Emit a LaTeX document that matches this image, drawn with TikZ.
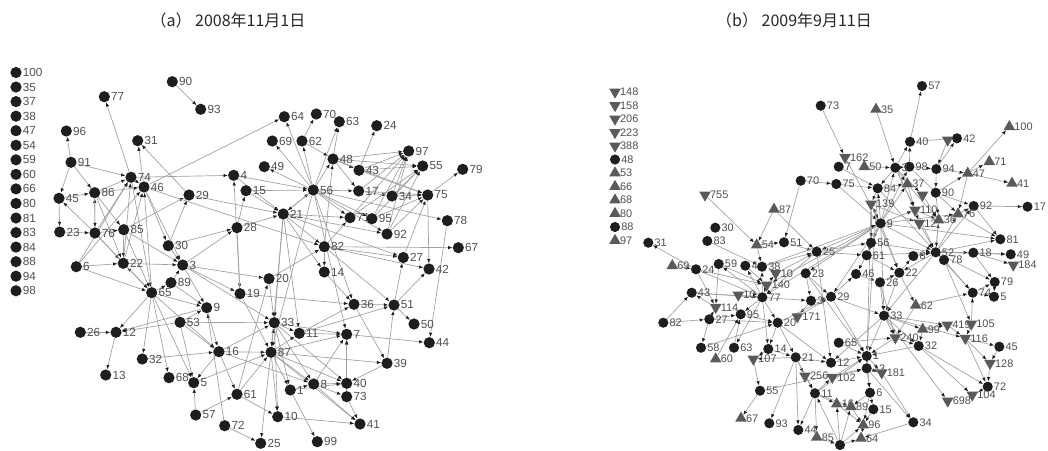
\documentclass[tikz,border=0pt]{standalone}
\usepackage{fontspec}
\setmainfont{Liberation Sans}
\newfontfamily\cjk{Noto Sans CJK SC}
\usetikzlibrary{shapes.geometric,arrows.meta,backgrounds}
\definecolor{dotc}{HTML}{1E1E1E}
\definecolor{tric}{HTML}{5A5A5A}
\definecolor{edgec}{HTML}{A0A0A0}
\definecolor{lblc}{HTML}{505050}
\tikzset{
 lblA/.style={font=\fontsize{8.8}{8.8}\selectfont, text=lblc, inner sep=0.5pt},
 lblB/.style={font=\fontsize{8.2}{8.2}\selectfont, text=lblc, inner sep=0.5pt},
 dotA/.style={circle, fill=dotc, inner sep=0pt, minimum size=8.4pt},
 dotB/.style={circle, fill=dotc, inner sep=0pt, minimum size=7.6pt},
 triup/.style={regular polygon, regular polygon sides=3, fill=tric, inner sep=0pt, minimum size=10pt},
 tridn/.style={triup, shape border rotate=180},
 conn/.style={draw=edgec, line width=0.5pt, -{Latex[length=3.2pt,width=2.6pt,color=dotc]}},
 ttl/.style={font=\cjk\fontsize{12}{12}\selectfont, text=black!85},
}
\begin{document}
\begin{tikzpicture}[x=0.75pt,y=-0.75pt]
\useasboundingbox (0,0) rectangle (1048,450);
\begin{scope}[on background layer]
\fill[white] (0,0) rectangle (1048,450);
\end{scope}
\node[ttl] (ta) at (228,20) {（a）\ 2008年11月1日};
\node[ttl] (tb) at (794,20) {（b）\ 2009年9月11日};
% ---------- panel a ----------
\foreach \nm [count=\i from 0] in {100,35,37,38,47,54,59,60,66,80,81,83,84,88,94,98}
  \node[dotA,label={[lblA]right:\nm}] (la\nm) at (16,72.5+14.55*\i) {};
\foreach \nm/\x/\y in {90/172.3/81.7, 93/200.7/109.3, 77/104.3/96.7, 96/66.3/131, 31/137.7/140.7, 91/71/162.3, 74/131/177.3, 46/144/187, 45/59/198.3, 86/94.7/192.7, 29/189/195, 4/233.7/175.3, 15/246/190.7, 23/59.7/232, 76/95/233, 85/123.7/229.7, 28/237/227.7, 30/168.3/245.7, 6/76.3/266.7, 22/123.3/263.3, 3/182.7/265, 89/171/282.7, 65/151.7/292.7, 19/240/293.7, 9/206.7/307.7, 53/180/322.3, 26/80.3/332.3, 12/116/332.3, 16/219/351.7, 32/142.3/359, 13/105.7/375, 68/169/377.7, 5/193.7/382.7, 61/237/394.3, 57/195.7/415, 72/224.7/425.7, 64/284.3/116.7, 70/316.3/114, 63/339.3/121.7, 24/376.7/125.7, 69/272.3/141, 62/302/141, 48/333/159, 97/408.7/151, 55/422.7/166, 79/462.7/169.3, 49/264.3/166.7, 43/359/170.3, 56/313.3/190, 17/358.7/191, 34/392/196, 75/427.7/195, 21/283.3/214, 71/350/217.7, 95/372/218.7, 78/447.3/220.7, 92/387/234, 82/324.3/246.7, 67/458.3/247.7, 27/403.3/257.5, 42/429/269, 14/324.3/272, 20/269/278.7, 36/354/304.3, 51/394/305, 50/414/324, 33/274.3/322.7, 11/299.3/333.3, 7/346.7/334.3, 44/429.3/342.7, 87/271/352.3, 39/387/363.3, 8/313.7/384, 40/346.7/383.3, 1/290.3/390, 73/346.7/396.7, 10/277.7/416.7, 41/360/424, 25/260.7/443.3, 99/317.3/441.7}
  \node[dotA,label={[lblA]right:\nm}] (a\nm) at (\x,\y) {};
\begin{scope}[on background layer]
\foreach \ea/\eb in {90/93, 74/77, 91/96, 29/31, 46/31, 91/74, 91/86, 91/45, 45/23, 76/45, 74/4, 86/74, 86/46, 46/64, 29/21, 85/29, 30/29, 76/74, 76/86, 86/76, 23/76, 76/85, 86/85, 85/22, 76/22, 86/22, 46/30, 46/3, 74/65, 30/28, 3/28, 28/19, 19/4, 28/15, 15/56, 4/56, 21/82, 21/56, 56/21, 56/64, 56/69, 56/62, 56/49, 56/48, 62/70, 62/48, 48/63, 56/63, 43/24, 48/97, 48/55, 48/43, 48/17, 43/55, 43/75, 17/97, 17/34, 56/17, 56/71, 56/95, 56/92, 34/97, 34/55, 71/55, 95/75, 95/97, 92/97, 92/55, 75/79, 56/78, 82/67, 82/27, 82/14, 82/71, 82/48, 27/75, 75/42, 78/44, 51/27, 51/42, 36/51, 14/36, 19/36, 11/36, 11/51, 11/7, 7/44, 87/39, 39/51, 39/40, 51/50, 20/33, 33/11, 33/8, 33/40, 33/1, 33/10, 87/33, 87/11, 87/7, 87/1, 87/10, 87/25, 87/41, 87/8, 16/87, 61/87, 53/33, 8/7, 8/40, 1/8, 10/41, 8/41, 1/99, 73/41, 40/7, 73/7, 65/22, 65/12, 65/32, 65/68, 65/89, 65/9, 65/5, 6/65, 26/12, 12/13, 53/12, 9/12, 53/5, 53/16, 53/9, 3/9, 89/9, 16/5, 16/61, 57/5, 57/61, 72/9, 72/25, 5/87, 32/16, 6/22, 22/74, 22/46, 65/46, 89/3, 30/3, 3/20, 3/33, 20/82, 21/11, 56/87, 21/87, 21/33, 21/14, 21/92, 21/71, 21/27, 56/36, 56/7, 82/51, 82/42, 71/97, 95/55, 17/75, 43/97, 48/75, 34/75, 92/75, 61/10, 61/20, 16/33, 16/8, 65/16, 74/46, 6/46, 22/3, 85/3, 3/19, 9/16, 19/87, 33/7, 8/73, 1/40, 87/40, 36/39, 4/21, 15/21, 28/21, 6/74, 85/65, 76/65, 45/86, 46/82}
  \draw[conn] (a\ea) -- (a\eb);
\end{scope}
% ---------- panel b ----------
\foreach \nm [count=\i from 0] in {148,158,206,223,388}
  \node[tridn,label={[lblB]right:\nm}] (lb\nm) at (615,92+13.5*\i) {};
\node[dotB,label={[lblB]right:48}] (lb48) at (615,159.5) {};
\foreach \nm/\i in {53/6,66/7,68/8,80/9,97/11}
  \node[triup,label={[lblB]right:\nm}] (lb\nm) at (615,92+13.5*\i) {};
\node[dotB,label={[lblB]right:88}] (lb88) at (615,227) {};
\foreach \nm/\x/\y in {70/800.7/180.7, 30/715.3/227.7, 83/707.3/241, 31/648.3/242.7, 51/784/242.3, 57/922/86, 73/820.7/105.7, 40/910/141.7, 42/957/138.3, 7/838.7/166.7, 98/909.3/166.7, 94/936.3/169, 75/836.3/184, 84/877.7/188.3, 90/935.7/192.7, 92/973.7/206, 17/1027.5/206.7, 9/880.7/223.3, 56/871/242.7, 81/1000.3/239.3, 25/816.7/251.7, 61/866.7/255.3, 8/913.3/256, 52/935.7/252.3, 78/944/260, 18/973.3/252.7, 49/1010.7/254.3, 23/805.7/273.3, 46/856/274, 22/899.3/272.7, 26/880/282.3, 79/994.7/282, 74/972.7/292.7, 5/994/296.7, 3/811/300.7, 29/831/296.7, 33/884/315.7, 65/838.7/342.7, 32/918.7/346, 45/999.3/346.7, 1/866.7/356, 12/831/362.7, 13/866.7/368.3, 72/987.7/386.7, 11/815/393.3, 6/870/392.7, 15/873.3/409.3, 34/913.3/422.3, 44/798.3/430, 24/696/269.3, 59/718.7/264, 4/745.3/265.7, 38/762/266.7, 43/691.7/292.7, 77/762.3/297.3, 95/740.7/314.3, 82/663.3/322.7, 27/709.3/319.3, 20/777.7/322.7, 58/701/347.7, 63/734/347.7, 14/768.3/349, 21/795.7/357.3, 55/760/390.7, 93/769.3/423.3}
  \node[dotB,label={[lblB]right:\nm}] (b\nm) at (\x,\y) {};
\node[dotB,label={[lblB]right:3}] (b3c) at (895.3,167.7) {};
\node[dotB] (b0) at (840,445) {};
\foreach \nm/\x/\y in {755/705/195, 162/845/157.3, 139/871/204, 110/915/210, 10/775.7/273.3, 140/766.7/285, 114/715.7/307.3, 171/797.3/316.7, 107/753.3/359, 419/947.3/325, 105/971.3/324, 240/895.3/337.7, 116/965.3/338.3, 128/990/363.3, 181/881.7/372.7, 256/805/376, 102/832.3/377.3, 104/972.3/395, 698/947.7/401, 184/1013.3/265}
  \node[tridn,label={[lblB]right:\nm}] (b\nm) at (\x,\y) {};
\node[tridn,label={[lblB]right:12}] (b12t) at (919.3,223.3) {};
\node[tridn,label={[lblB]right:10}] (b10x) at (738.3,295) {};
\node[tridn] (b42t) at (947.7,140) {};
\node[tridn] (b90t) at (922.5,195) {};
\foreach \nm/\x/\y in {87/774/209.3, 54/756.7/245, 35/876/109.3, 100/1009.3/126.7, 50/864.3/166.7, 71/989.3/161.7, 47/967.7/173.3, 41/1012/183.3, 37/907.3/184, 36/938.7/220, 76/958/214, 62/915.7/305.3, 99/922.7/329.3, 16/836.7/404, 89/851/406.7, 96/863.3/425, 85/816.7/437.3, 64/861/438.3, 69/672.3/265.7, 60/715.7/359, 67/741/418.3}
  \node[triup,label={[lblB]right:\nm}] (b\nm) at (\x,\y) {};
\begin{scope}[on background layer]
\foreach \ea/\eb in {73/162, 35/3c, 40/57, 40/42, 3c/40, 98/40, 755/54, 87/54, 87/25, 70/51, 83/38, 24/31, 82/43, 82/27, 27/58, 27/114, 114/43, 24/114, 59/114, 69/24, 9/25, 9/56, 9/61, 9/22, 9/52, 9/84, 9/139, 162/9, 75/9, 9/140, 9/77, 9/23, 9/29, 9/110, 9/3c, 9/37, 9/98, 52/81, 52/18, 52/78, 52/49, 52/74, 52/79, 52/22, 52/8, 52/92, 52/76, 52/36, 18/49, 18/184, 92/17, 47/41, 47/71, 47/100, 94/47, 94/42, 90/47, 12/1, 1/6, 1/181, 240/1, 33/1, 65/1, 32/1, 102/1, 11/1, 33/240, 33/99, 33/116, 33/419, 33/32, 22/33, 26/33, 29/33, 62/74, 99/419, 105/74, 116/45, 32/104, 32/72, 128/72, 45/128, 116/128, 33/698, 13/34, 21/12, 21/256, 21/11, 21/93, 21/44, 21/107, 20/21, 14/21, 11/16, 11/85, 11/44, 11/102, 11/89, 16/96, 89/96, 96/64, 34/64, 6/15, 6/96, 13/6, 77/20, 77/95, 77/14, 77/63, 77/59, 77/38, 77/4, 140/77, 25/77, 55/67, 107/55, 55/13, 70/75, 75/84, 7/84, 50/3c, 3c/98, 98/94, 94/90, 90/92, 84/37, 37/110, 110/12t, 12t/52, 36/52, 76/92, 42t/94, 3c/84, 84/139, 139/56, 56/61, 61/46, 46/26, 26/22, 22/8, 8/52, 61/22, 25/61, 25/56, 51/25, 54/51, 54/38, 38/25, 23/29, 23/3, 3/29, 29/46, 171/29, 3/171, 140/10, 10/25, 10x/77, 43/77, 24/77, 59/140, 4/140, 95/20, 27/95, 27/20, 58/20, 63/95, 14/107, 60/95, 20/29, 20/12, 20/14, 65/240, 102/13, 256/11, 0/11, 0/16, 0/89, 0/96, 85/0, 0/64, 13/181, 181/34, 6/89, 15/96, 240/32, 99/32, 62/240, 22/62, 26/240, 33/12, 29/1, 23/1, 9/33, 52/33, 78/105, 78/74, 74/79, 74/5, 79/5, 18/79, 105/116, 419/116, 72/104, 116/72, 3c/37, 37/36, 90/36, 98/76, 47/76, 76/81, 92/81, 139/22, 56/52, 61/52, 3c/52, 84/52, 139/12t, 110/36, 3c/110, 9/76, 9/81, 3c/90t, 90t/36, 84/1, 139/13, 25/12, 38/9, 24/140, 43/3}
  \draw[conn] (b\ea) -- (b\eb);
\end{scope}
\end{tikzpicture}
\end{document}
